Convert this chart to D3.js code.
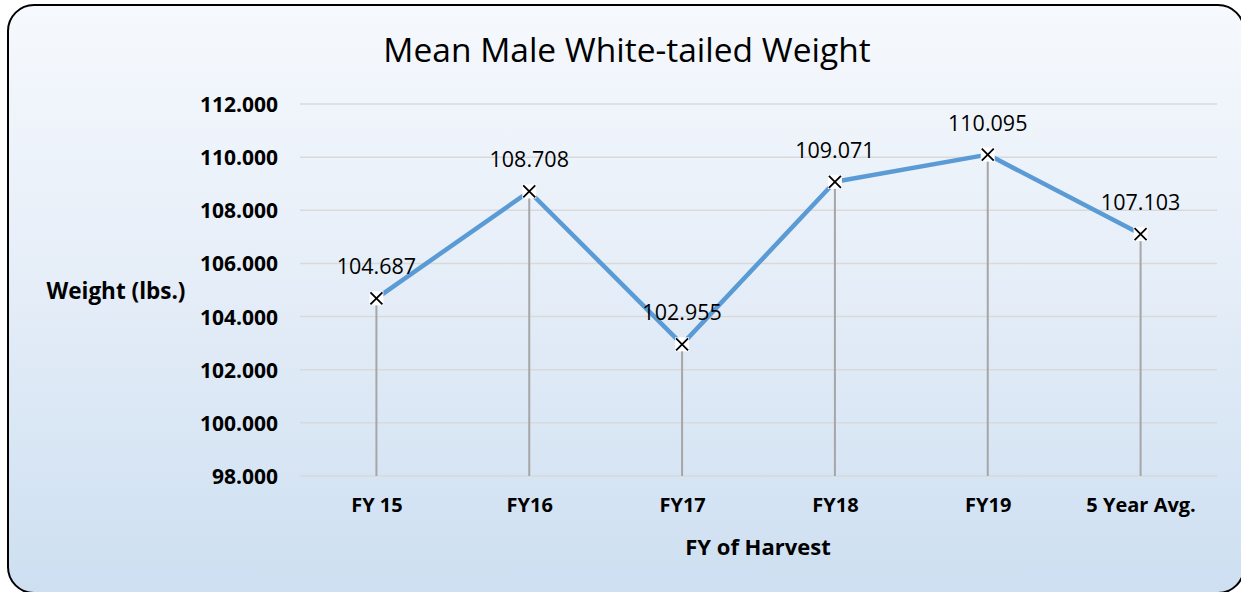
<!DOCTYPE html>
<html>
<head>
<meta charset="utf-8">
<script src="https://cdn.jsdelivr.net/npm/d3@7"></script>
<style>
  html, body { margin: 0; padding: 0; background: #ffffff; }
  svg { display: block; }
</style>
</head>
<body>
<svg id="chart" width="1241" height="592"></svg>
<script>
const categories = ["FY 15", "FY16", "FY17", "FY18", "FY19", "5 Year Avg."];
const weights = [104.687, 108.708, 102.955, 109.071, 110.095, 107.103];
const yTicks = [98, 100, 102, 104, 106, 108, 110, 112];
const titleText = "Mean Male White-tailed Weight";
const xTitle = "FY of Harvest";
const yTitle = "Weight (lbs.)";

const W = 1241, H = 592;
const svg = d3.select("#chart");
const font = "'Open Sans', 'Liberation Sans', sans-serif";

const defs = svg.append("defs");
const grad = defs.append("linearGradient").attr("id", "bg").attr("x1", 0).attr("y1", 0).attr("x2", 0).attr("y2", 1);
grad.append("stop").attr("offset", "0%").attr("stop-color", "#f6f9fd");
grad.append("stop").attr("offset", "45%").attr("stop-color", "#e6eef8");
grad.append("stop").attr("offset", "100%").attr("stop-color", "#cddff1");

svg.append("rect")
  .attr("x", 8).attr("y", 5).attr("width", 1236).attr("height", 588)
  .attr("rx", 26).attr("ry", 26)
  .attr("fill", "url(#bg)").attr("stroke", "#000").attr("stroke-width", 2);

const x = d3.scalePoint().domain(categories).range([300, 1217]).padding(0.5);
const y = d3.scaleLinear().domain([98, 112]).range([476, 104]);

// gridlines
svg.append("g").selectAll("line").data(yTicks).join("line")
  .attr("x1", 300).attr("x2", 1217)
  .attr("y1", d => y(d)).attr("y2", d => y(d))
  .attr("stroke", "#d9d9d9").attr("stroke-width", 1.5);

// y axis labels
const yAxis = d3.axisLeft(y).tickValues(yTicks).tickFormat(d3.format(".3f")).tickSize(0).tickPadding(0);
const gy = svg.append("g").attr("transform", "translate(278,0)").call(yAxis);
gy.select(".domain").remove();
gy.selectAll("text")
  .attr("font-family", font).attr("font-size", 21).attr("font-weight", "bold").attr("fill", "#000")
  .attr("dy", "0.36em");

// x axis labels
const xAxis = d3.axisBottom(x).tickSize(0).tickPadding(0);
const gx = svg.append("g").attr("transform", "translate(0,498)").call(xAxis);
gx.select(".domain").remove();
gx.selectAll("text")
  .attr("font-family", font).attr("font-size", 20).attr("font-weight", "bold").attr("fill", "#000")
  .attr("dy", "0.71em");

// drop lines
svg.append("g").selectAll("line").data(weights).join("line")
  .attr("x1", (d, i) => x(categories[i])).attr("x2", (d, i) => x(categories[i]))
  .attr("y1", d => y(d)).attr("y2", y(98))
  .attr("stroke", "#a6a6a6").attr("stroke-width", 2);

// line
const line = d3.line().x((d, i) => x(categories[i])).y(d => y(d));
svg.append("path").datum(weights)
  .attr("d", line).attr("fill", "none")
  .attr("stroke", "#5b9bd5").attr("stroke-width", 4.5).attr("stroke-linejoin", "round");

// markers
const mk = svg.append("g").selectAll("g").data(weights).join("g")
  .attr("transform", (d, i) => `translate(${x(categories[i])},${y(d)})`);
mk.append("rect").attr("x", -7).attr("y", -7).attr("width", 14).attr("height", 14).attr("fill", "#fff");
mk.append("path").attr("d", "M-6,-6L6,6M6,-6L-6,6").attr("stroke", "#000").attr("stroke-width", 1.8);

// data labels
svg.append("g").selectAll("text").data(weights).join("text")
  .attr("x", (d, i) => x(categories[i])).attr("y", d => y(d) - 24)
  .attr("text-anchor", "middle")
  .attr("font-family", font).attr("font-size", 21.5).attr("fill", "#000")
  .text(d => d3.format(".3f")(d));

// title
svg.append("text").attr("x", 627).attr("y", 62).attr("text-anchor", "middle")
  .attr("font-family", font).attr("font-size", 33.5).attr("fill", "#000").text(titleText);

// axis titles
svg.append("text").attr("x", 758).attr("y", 555).attr("text-anchor", "middle")
  .attr("font-family", font).attr("font-size", 22).attr("font-weight", "bold").attr("fill", "#000").text(xTitle);
svg.append("text").attr("x", 116).attr("y", 299).attr("text-anchor", "middle")
  .attr("font-family", font).attr("font-size", 22.5).attr("font-weight", "bold").attr("fill", "#000").text(yTitle);
</script>
</body>
</html>
